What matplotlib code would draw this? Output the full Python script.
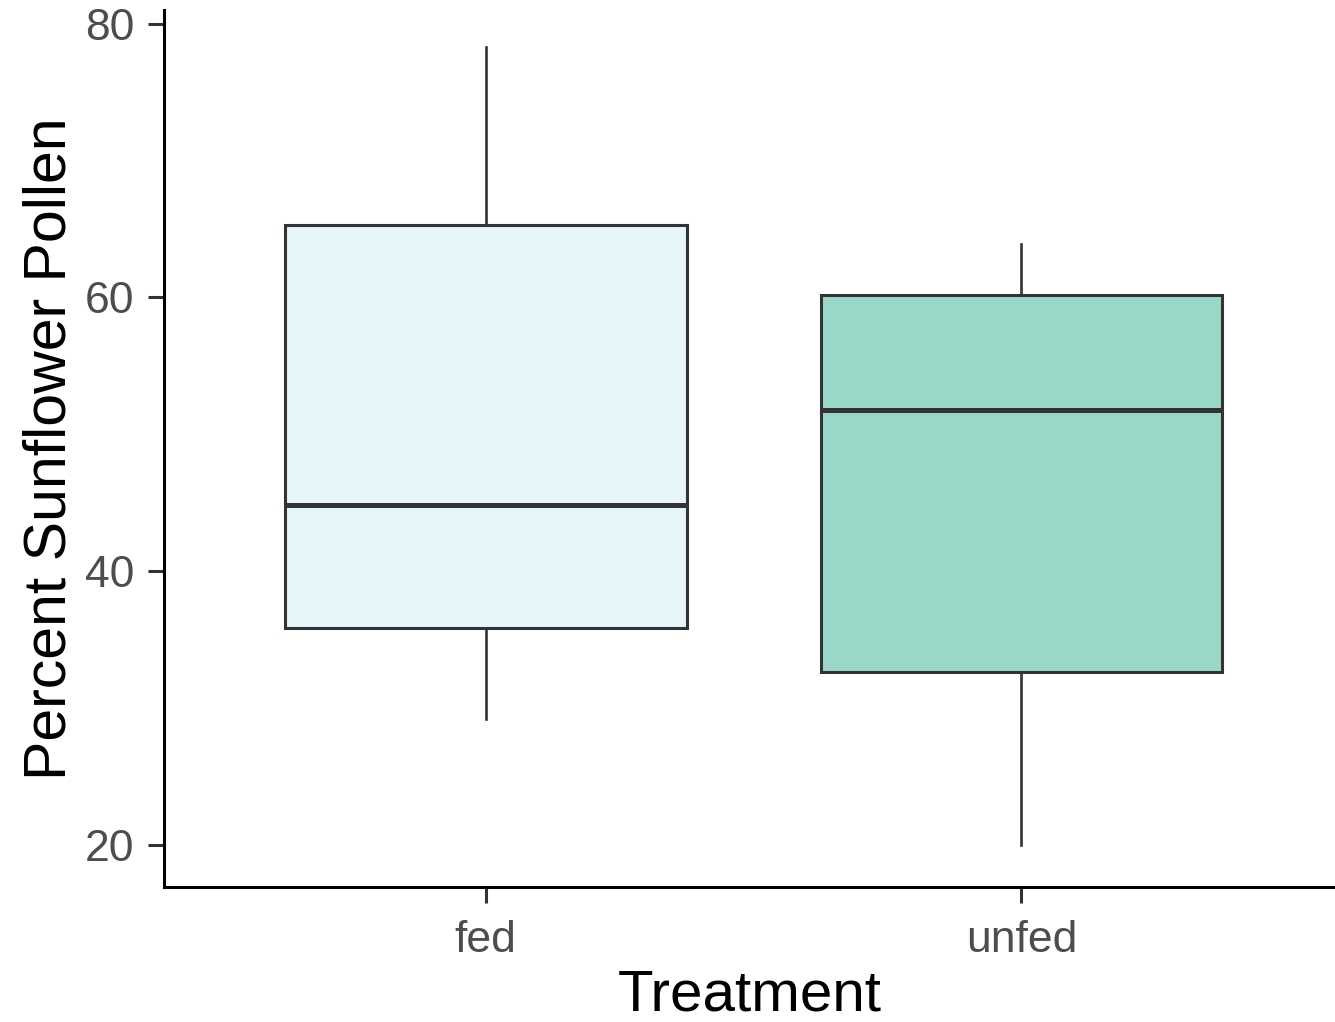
import matplotlib
matplotlib.use("Agg")
import matplotlib.pyplot as plt

# Summary statistics for each treatment group
treatments = ["fed", "unfed"]
whisker_low = [29.2, 20.0]
q1 = [35.8, 32.6]
medians = [44.8, 51.8]
q3 = [65.3, 60.2]
whisker_high = [78.3, 63.9]
fill_colors = ["#E5F5F9", "#99D8C9"]

y_ticks = [20, 40, 60, 80]

plt.rcParams["font.family"] = ["Liberation Sans", "DejaVu Sans"]

fig = plt.figure(figsize=(13.35, 10.22), dpi=100)
ax = fig.add_axes([164 / 1335, 1 - 887 / 1022, 1 - 164 / 1335, (887 - 10) / 1022])

stats = []
for i, name in enumerate(treatments):
    stats.append({
        "label": name,
        "whislo": whisker_low[i],
        "q1": q1[i],
        "med": medians[i],
        "q3": q3[i],
        "whishi": whisker_high[i],
        "fliers": [],
    })

edge = "#333333"
bp = ax.bxp(
    stats,
    positions=[1, 2],
    widths=0.75,
    patch_artist=True,
    showcaps=False,
    showfliers=False,
    boxprops=dict(edgecolor=edge, linewidth=2.2),
    whiskerprops=dict(color=edge, linewidth=1.9),
    medianprops=dict(color=edge, linewidth=3.6, solid_capstyle="butt"),
)
for patch, c in zip(bp["boxes"], fill_colors):
    patch.set_facecolor(c)

ax.set_xlim(0.4, 2.585)
ax.set_ylim(16.9, 81.0)
ax.set_yticks(y_ticks)
ax.set_yticklabels([str(v) for v in y_ticks])

for side in ("top", "right"):
    ax.spines[side].set_visible(False)
for side in ("left", "bottom"):
    ax.spines[side].set_linewidth(2.2)
    ax.spines[side].set_color("black")

ax.tick_params(axis="both", length=11.5, width=2.2, color=edge,
               labelsize=32, labelcolor="#4D4D4D", pad=10)
ax.tick_params(axis="x", pad=12.5)

ax.set_xlabel("Treatment", fontsize=42, labelpad=5)
ax.set_ylabel("Percent Sunflower Pollen", fontsize=42.5, labelpad=5)

fig.savefig("out.png", dpi=100)
